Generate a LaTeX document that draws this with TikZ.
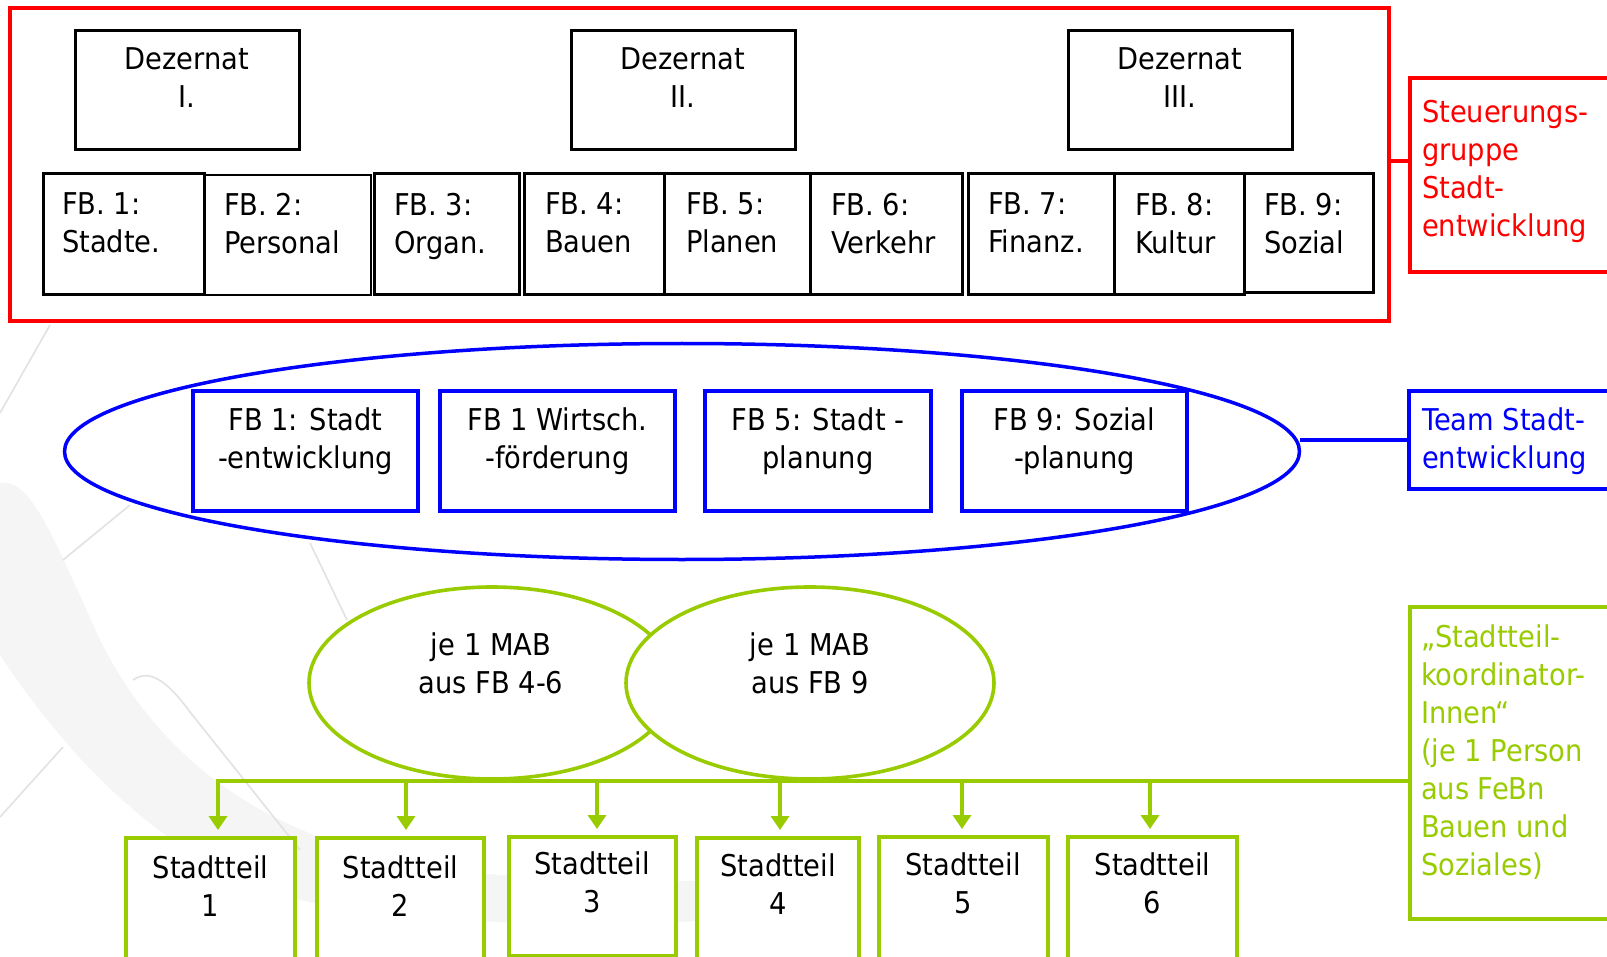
\documentclass[tikz,border=0pt]{standalone}
\usepackage{fontspec}
\setmainfont{DejaVu Sans}[FakeStretch=0.91]
\usetikzlibrary{fit,shapes.geometric,arrows.meta}
\definecolor{myred}{RGB}{255,0,0}
\definecolor{myblue}{RGB}{0,0,255}
\definecolor{mygreen}{RGB}{153,204,0}
\definecolor{wm}{RGB}{245,245,245}
\definecolor{wmline}{RGB}{226,226,226}
\begin{document}
\begin{tikzpicture}[x=0.5pt,y=-0.5pt,
  every node/.style={inner sep=0pt, outer sep=0pt},
  txt/.style={font=\fontsize{15}{19}\selectfont, align=center},
  txtl/.style={font=\fontsize{15}{19}\selectfont, align=left, anchor=north west},
  bbox/.style={draw=black, line width=1.5pt, fill=white},
  thinbox/.style={draw=black, line width=0.6pt, fill=white},
  rbox/.style={draw=myred, line width=1.9pt},
  blbox/.style={draw=myblue, line width=1.6pt, fill=white},
  gbox/.style={draw=mygreen, line width=1.8pt, fill=white},
  gline/.style={draw=mygreen, line width=1.9pt},
  garr/.style={draw=mygreen, line width=1.9pt, -{Triangle[width=9pt,length=7pt]}, shorten >=4pt},
  wml/.style={draw=wmline, line width=0.8pt}
]
\useasboundingbox (0,0) rectangle (1607,957);
\clip (0,0) rectangle (1607,957);
\fill[white] (0,0) rectangle (1607,957);
% faint watermark
\fill[wm] (0,483) .. controls (30,478) and (50,530) .. (100,640)
  .. controls (170,780) and (300,860) .. (500,875)
  .. controls (620,884) and (720,880) .. (790,880)
  -- (790,915) .. controls (600,932) and (350,925) .. (250,885)
  .. controls (130,830) and (50,730) .. (0,655) -- cycle;
\draw[wml] (0,413) -- (50,325);
\draw[wml] (63,560) -- (130,505);
\draw[wml] (0,817) -- (63,747);
\draw[wml] (133,680) .. controls (150,668) and (168,682) .. (190,712) -- (300,850);
\draw[wml] (310,543) -- (347,620);

% ---------- red group ----------
\node[rbox, fit={(10,8) (1389,321)}] (redbox) {};
\node[bbox, fit={(75,31) (299,150)}] (dz1) {};
\node[bbox, fit={(571,31) (795,150)}] (dz2) {};
\node[bbox, fit={(1068,31) (1292,150)}] (dz3) {};
\node[txt, anchor=north] (dz1t) at (187,48) {Dezernat\\I.};
\node[txt, anchor=north] (dz2t) at (683,48) {Dezernat\\II.};
\node[txt, anchor=north] (dz3t) at (1180,48) {Dezernat\\III.};

\node[thinbox, fit={(204,175) (371,295)}] (fb2) {};
\node[bbox, fit={(43,174) (204,295)}] (fb1) {};
\node[bbox, fit={(374,174) (519,295)}] (fb3) {};
\node[bbox, fit={(524,174) (664,295)}] (fb4) {};
\node[bbox, fit={(664,174) (810,295)}] (fb5) {};
\node[bbox, fit={(810,174) (962,295)}] (fb6) {};
\node[bbox, fit={(968,174) (1114,295)}] (fb7) {};
\node[bbox, fit={(1114,174) (1244,295)}] (fb8) {};
\node[bbox, fit={(1244,174) (1373,293)}] (fb9) {};
\node[txtl] (fb1t) at (62,193) {FB. 1:\\Stadte.};
\node[txtl] (fb2t) at (224,193) {FB. 2:\\Personal};
\node[txtl] (fb3t) at (394,193) {FB. 3:\\Organ.};
\node[txtl] (fb4t) at (545,193) {FB. 4:\\Bauen};
\node[txtl] (fb5t) at (686,193) {FB. 5:\\Planen};
\node[txtl] (fb6t) at (831,193) {FB. 6:\\Verkehr};
\node[txtl] (fb7t) at (988,193) {FB. 7:\\Finanz.};
\node[txtl] (fb8t) at (1135,193) {FB. 8:\\Kultur};
\node[txtl] (fb9t) at (1264,193) {FB. 9:\\Sozial};

\node[rbox, fit={(1410,78) (1640,272)}] (steu) {};
\node[txtl, text=myred] (steut) at (1422,100) {Steuerungs-\\gruppe\\Stadt-\\entwicklung};
\coordinate (rc) at (0,161);
\draw[myred, line width=1.9pt] (redbox.east |- rc) -- (steu.west |- rc);

% ---------- blue group ----------
\node[ellipse, draw=myblue, line width=1.75pt, fill=white,
  minimum width=617.5pt, minimum height=108pt] (bell) at (682,451.5) {};
\node[blbox, fit={(193,391) (418,511)}] (b1) {};
\node[blbox, fit={(440,391) (675,511)}] (b2) {};
\node[blbox, fit={(705,391) (931,511)}] (b3) {};
\node[blbox, fit={(962,391) (1187,511)}] (b4) {};
\node[txt, anchor=north] (b1t) at (305.5,408) {FB 1: Stadt\\-entwicklung};
\node[txt, anchor=north] (b2t) at (557.5,408) {FB 1 Wirtsch.\\-förderung};
\node[txt, anchor=north] (b3t) at (818,408) {FB 5: Stadt -\\planung};
\node[txt, anchor=north] (b4t) at (1074.5,408) {FB 9: Sozial\\-planung};
\node[blbox, fit={(1409,391) (1640,489)}] (team) {};
\node[txtl, text=myblue] (teamt) at (1422,408) {Team Stadt-\\entwicklung};
\draw[myblue, line width=1.6pt] (team.west) -- (team.west -| bell.east);

% ---------- green group ----------
\node[ellipse, gbox, minimum width=183pt, minimum height=96pt] (ge1) at (492,683) {};
\node[ellipse, gbox, minimum width=184pt, minimum height=96pt] (ge2) at (810,683) {};
\node[txt, anchor=north] (ge1t) at (491,633) {je 1 MAB\\aus FB 4-6};
\node[txt, anchor=north] (ge2t) at (810,633) {je 1 MAB\\aus FB 9};

\node[gbox, fit={(1410,607) (1640,919)}] (koord) {};
\node[txtl, text=mygreen] (koordt) at (1421,625) {„Stadtteil-\\koordinator-\\Innen“\\(je 1 Person\\aus FeBn\\Bauen und\\Soziales)};

\node[gbox, fit={(126,838) (295,990)}] (s1) {};
\node[gbox, fit={(317,838) (484,990)}] (s2) {};
\node[gbox, fit={(509,837) (676,956)}] (s3) {};
\node[gbox, fit={(697,838) (859,990)}] (s4) {};
\node[gbox, fit={(879,837) (1048,990)}] (s5) {};
\node[gbox, fit={(1068,837) (1237,990)}] (s6) {};
\node[txt, anchor=north] (s1t) at (210.5,856) {Stadtteil\\1};
\node[txt, anchor=north] (s2t) at (400.5,856) {Stadtteil\\2};
\node[txt, anchor=north] (s3t) at (592,852) {Stadtteil\\3};
\node[txt, anchor=north] (s4t) at (778,854) {Stadtteil\\4};
\node[txt, anchor=north] (s5t) at (963,853) {Stadtteil\\5};
\node[txt, anchor=north] (s6t) at (1152.5,853) {Stadtteil\\6};

\coordinate (a1) at (218,781);
\coordinate (a2) at (406,781);
\coordinate (a3) at (597,781);
\coordinate (a4) at (780,781);
\coordinate (a5) at (962,781);
\coordinate (a6) at (1150,781);
\draw[gline] ([xshift=-0.95pt]a1) -- (a1 -| koord.west);
\draw[garr] (a1) -- (a1 |- s1.north);
\draw[garr] (a2) -- (a2 |- s2.north);
\draw[garr] (a3) -- (a3 |- s3.north);
\draw[garr] (a4) -- (a4 |- s4.north);
\draw[garr] (a5) -- (a5 |- s5.north);
\draw[garr] (a6) -- (a6 |- s6.north);
\end{tikzpicture}
\end{document}
